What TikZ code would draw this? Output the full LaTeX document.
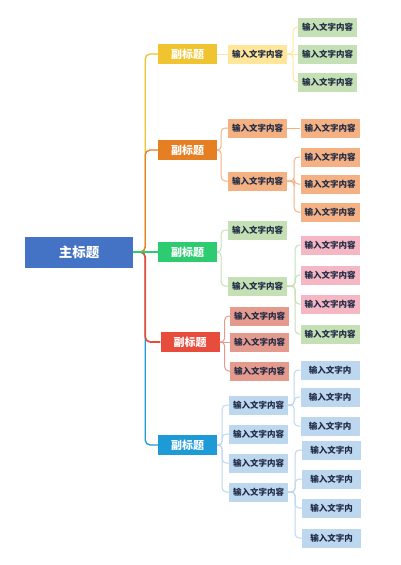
\documentclass[tikz,border=0pt]{standalone}
\usepackage{fontspec}
\newfontfamily\cjk{Noto Sans CJK SC}

\definecolor{mainblue}{HTML}{4472C4}
\definecolor{subyellow}{HTML}{F0C330}
\definecolor{suborange}{HTML}{E67E22}
\definecolor{subgreen}{HTML}{2ECC71}
\definecolor{subred}{HTML}{E74C3C}
\definecolor{subblue}{HTML}{1E9BD7}
\definecolor{paleyellow}{HTML}{FFE699}
\definecolor{paleorange}{HTML}{F4B183}
\definecolor{palegreen}{HTML}{C5E0B4}
\definecolor{palepink}{HTML}{F5B7C3}
\definecolor{palered}{HTML}{E59A8E}
\definecolor{paleblue}{HTML}{BDD7EE}
\definecolor{ink}{HTML}{1F2A44}

\begin{document}
\begin{tikzpicture}[x=1pt,y=-1pt,
  box/.style={rectangle, inner sep=0pt, minimum width=59pt, minimum height=19pt,
    text=ink, font=\cjk\bfseries\fontsize{8.5}{9}\selectfont},
  sub/.style={box, minimum height=20pt, text=white,
    font=\cjk\bfseries\fontsize{11}{12}\selectfont},
  trunk/.style={rounded corners=5pt, line width=1.3pt},
  link/.style={rounded corners=4pt, line width=1pt}]

\useasboundingbox (0,0) rectangle (400,565);
\fill[white] (0,0) rectangle (400,565);

\def\xs{187.5};
\def\xm{257.5};
\def\xr{330};

% main title
\node[fill=mainblue, minimum width=108pt, minimum height=31pt, inner sep=0pt,
  text=white, font=\cjk\bfseries\fontsize{13.5}{14}\selectfont] (main) at (79,252) {主标题};

% subtitles
\node[sub, fill=subyellow] (s1) at (\xs,54) {副标题};
\node[sub, fill=suborange] (s2) at (\xs,150) {副标题};
\node[sub, fill=subgreen] (s3) at (\xs,252) {副标题};
\node[sub, fill=subred] (s4) at (190,342) {副标题};
\node[sub, fill=subblue] (s5) at (\xs,445) {副标题};

\draw[trunk, subblue] (main.east) -- ++(12,0) |- (s5.west);
\draw[trunk, subred, line width=1.6pt] (main.east) -- ++(12,0) |- (s4.west);
\draw[trunk, subyellow] (main.east) -- ++(12,0) |- (s1.west);
\draw[trunk, suborange] (main.east) -- ++(12,0) |- (s2.west);
\draw[trunk, subgreen] (main.east) -- (s3.west);

% branch 1
\node[box, fill=paleyellow] (a1) at (\xm,54) {输入文字内容};
\node[box, fill=palegreen] (a11) at (327.5,27) {输入文字内容};
\node[box, fill=palegreen] (a12) at (327.5,54) {输入文字内容};
\node[box, fill=palegreen] (a13) at (327.5,82) {输入文字内容};

\draw[link, paleyellow] (s1.east) -- (a1.west);
\draw[link, paleyellow] (a1.east) -- ++(6,0) |- (a11.west);
\draw[link, paleyellow] (a1.east) -- (a12.west);
\draw[link, paleyellow] (a1.east) -- ++(6,0) |- (a13.west);

% branch 2
\node[box, fill=paleorange] (b1) at (\xm,128) {输入文字内容};
\node[box, fill=paleorange] (b2) at (\xm,181) {输入文字内容};
\node[box, fill=paleorange] (b11) at (\xr,128) {输入文字内容};
\node[box, fill=paleorange] (b21) at (\xr,157) {输入文字内容};
\node[box, fill=paleorange] (b22) at (\xr,184) {输入文字内容};
\node[box, fill=paleorange] (b23) at (\xr,212) {输入文字内容};

\draw[link, paleorange] (s2.east) -- ++(4,0) |- (b1.west);
\draw[link, paleorange] (s2.east) -- ++(4,0) |- (b2.west);
\draw[link, paleorange] (b1.east) -- (b11.west);
\draw[link, paleorange] (b2.east) -- ++(7,0) |- (b21.west);
\draw[link, paleorange] (b2.east) -- ++(7,0) |- (b22.west);
\draw[link, paleorange] (b2.east) -- ++(7,0) |- (b23.west);

% branch 3
\node[box, fill=palegreen] (c1) at (\xm,230) {输入文字内容};
\node[box, fill=palegreen] (c2) at (\xm,286) {输入文字内容};
\node[box, fill=palepink] (c21) at (\xr,245) {输入文字内容};
\node[box, fill=palepink] (c22) at (\xr,275) {输入文字内容};
\node[box, fill=palepink] (c23) at (\xr,304) {输入文字内容};
\node[box, fill=palegreen] (c24) at (\xr,334) {输入文字内容};

\draw[link, palegreen] (s3.east) -- ++(4,0) |- (c1.west);
\draw[link, palegreen] (s3.east) -- ++(4,0) |- (c2.west);
\draw[link, palegreen] (c2.east) -- ++(8,0) |- (c21.west);
\draw[link, palegreen] (c2.east) -- ++(8,0) |- (c22.west);
\draw[link, palegreen] (c2.east) -- ++(8,0) |- (c23.west);
\draw[link, palegreen] (c2.east) -- ++(8,0) |- (c24.west);

% branch 4
\node[box, fill=palered] (d1) at (259.5,316) {输入文字内容};
\node[box, fill=palered] (d2) at (259.5,342) {输入文字内容};
\node[box, fill=palered] (d3) at (259.5,371) {输入文字内容};

\draw[link, palered] (s4.east) -- ++(5,0) |- (d1.west);
\draw[link, palered] (s4.east) -- (d2.west);
\draw[link, palered] (s4.east) -- ++(5,0) |- (d3.west);

% branch 5
\node[box, fill=paleblue] (e1) at (258.5,405) {输入文字内容};
\node[box, fill=paleblue] (e2) at (258.5,434) {输入文字内容};
\node[box, fill=paleblue] (e3) at (258.5,463) {输入文字内容};
\node[box, fill=paleblue] (e4) at (258.5,492) {输入文字内容};
\node[box, fill=paleblue] (e11) at (330,370) {输入文字内};
\node[box, fill=paleblue] (e12) at (330,397) {输入文字内};
\node[box, fill=paleblue] (e13) at (330,426) {输入文字内};
\node[box, fill=paleblue] (e41) at (331.5,450) {输入文字内};
\node[box, fill=paleblue] (e42) at (331.5,479) {输入文字内};
\node[box, fill=paleblue] (e43) at (331.5,508) {输入文字内};
\node[box, fill=paleblue] (e44) at (331.5,538) {输入文字内};

\draw[link, paleblue] (s5.east) -- ++(5,0) |- (e1.west);
\draw[link, paleblue] (s5.east) -- ++(5,0) |- (e2.west);
\draw[link, paleblue] (s5.east) -- ++(5,0) |- (e3.west);
\draw[link, paleblue] (s5.east) -- ++(5,0) |- (e4.west);
\draw[link, paleblue] (e1.east) -- ++(6,0) |- (e11.west);
\draw[link, paleblue] (e1.east) -- ++(6,0) |- (e12.west);
\draw[link, paleblue] (e1.east) -- ++(6,0) |- (e13.west);
\draw[link, paleblue] (e4.east) -- ++(7,0) |- (e41.west);
\draw[link, paleblue] (e4.east) -- ++(7,0) |- (e42.west);
\draw[link, paleblue] (e4.east) -- ++(7,0) |- (e43.west);
\draw[link, paleblue] (e4.east) -- ++(7,0) |- (e44.west);

\end{tikzpicture}
\end{document}
